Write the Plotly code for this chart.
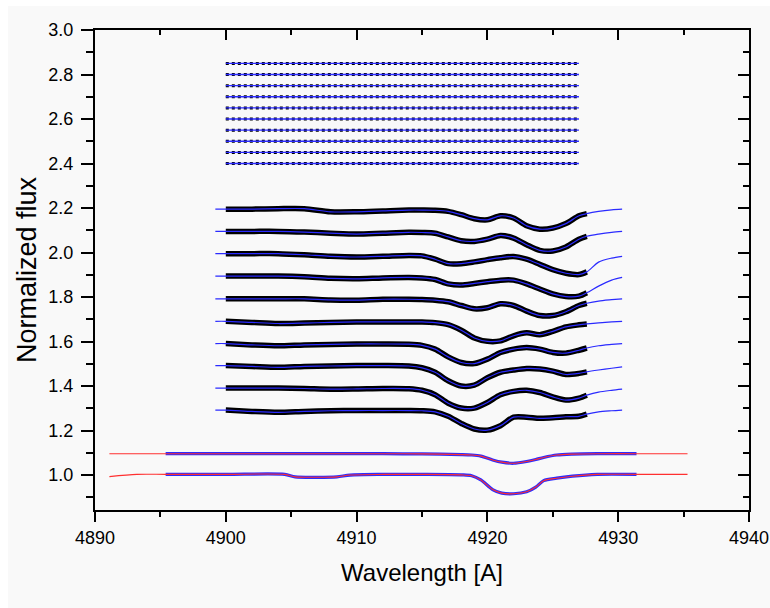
import plotly.graph_objects as go

# ---------------- data ----------------
# common wavelength grid of the model curves of the middle group
WL = [4899.2, 4900, 4902, 4904, 4906, 4908, 4910, 4912, 4914, 4915, 4916, 4917,
      4918, 4919, 4920, 4921, 4922, 4923, 4924, 4925, 4926, 4927, 4927.6,
      4928.5, 4929.5, 4930.3]
OBS_RANGE = (4900, 4927.6)        # wavelength span of the observed points

MID_OFFSETS = [2.195, 2.095, 1.995, 1.894, 1.792, 1.691, 1.591, 1.492, 1.391, 1.292]

S1 = [0, 0, 0, 0.002, 0.002, -0.012, -0.012, -0.008, -0.004, -0.004, -0.005, -0.01,
      -0.025, -0.043, -0.048, -0.03, -0.04, -0.075, -0.09, -0.085, -0.065, -0.03, -0.02,
      -0.01, -0.003, 0]
S2 = [0, 0, 0, 0, -0.003, -0.008, -0.012, -0.008, -0.004, -0.005, -0.008, -0.025,
      -0.042, -0.045, -0.035, -0.018, -0.03, -0.06, -0.085, -0.088, -0.07, -0.035, -0.022,
      -0.012, -0.004, 0]
S3 = [0, 0, 0, 0, -0.005, -0.012, -0.015, -0.012, -0.008, -0.01, -0.025, -0.045,
      -0.045, -0.037, -0.027, -0.018, -0.013, -0.025, -0.048, -0.072, -0.088, -0.094, -0.082,
      -0.038, -0.02, -0.012]
S4 = [0, 0, 0, 0, -0.003, -0.01, -0.012, -0.008, -0.006, -0.008, -0.015, -0.035,
      -0.04, -0.033, -0.025, -0.018, -0.018, -0.035, -0.058, -0.08, -0.092, -0.09, -0.075,
      -0.045, -0.018, -0.006]
S5 = [0, 0, 0, 0, 0, -0.005, -0.006, -0.002, -0.002, -0.003, -0.006, -0.013,
      -0.03, -0.045, -0.04, -0.022, -0.03, -0.055, -0.075, -0.075, -0.058, -0.03, -0.02,
      -0.01, -0.004, 0]
S6 = [0, 0, -0.005, -0.01, -0.008, -0.005, -0.003, -0.003, -0.003, -0.003, -0.006, -0.015,
      -0.04, -0.075, -0.09, -0.088, -0.065, -0.052, -0.06, -0.045, -0.025, -0.016, -0.012,
      -0.007, -0.003, 0]
S7 = [0, 0, -0.006, -0.01, -0.006, -0.004, -0.002, -0.002, -0.003, -0.008, -0.025, -0.06,
      -0.085, -0.09, -0.07, -0.04, -0.025, -0.018, -0.025, -0.04, -0.043, -0.03, -0.02,
      -0.01, -0.004, 0]
S8 = [0, 0, -0.004, -0.008, -0.004, -0.002, 0, 0, -0.002, -0.01, -0.03, -0.068,
      -0.092, -0.088, -0.055, -0.03, -0.02, -0.013, -0.015, -0.025, -0.04, -0.035, -0.028,
      -0.02, -0.012, -0.006]
S9 = [0, 0, 0, 0, -0.002, -0.005, -0.004, -0.002, -0.003, -0.01, -0.03, -0.068,
      -0.09, -0.09, -0.065, -0.03, -0.015, -0.01, -0.02, -0.04, -0.054, -0.045, -0.032,
      -0.018, -0.01, -0.005]
S10 = [0, 0, -0.006, -0.01, -0.006, -0.003, -0.002, -0.002, -0.002, -0.003, -0.008, -0.028,
       -0.06, -0.085, -0.09, -0.07, -0.032, -0.032, -0.037, -0.035, -0.03, -0.028, -0.018,
       -0.008, -0.003, 0]
MID_PROFILES = [S1, S2, S3, S4, S5, S6, S7, S8, S9, S10]

# top group: flat residual-like spectra
TOP_WL = [4900, 4927]
TOP_LEVELS = [2.40, 2.45, 2.50, 2.55, 2.60, 2.65, 2.70, 2.75, 2.80, 2.85]

# bottom group: two spectra (blue points) and their red fits
BOT_WL = [4891.1, 4893.2, 4895.4, 4900, 4904.5, 4905.3, 4907, 4908.5, 4909.5, 4912,
          4915, 4918, 4918.8, 4919.5, 4920.4, 4921.1, 4922, 4923, 4923.7, 4924.3,
          4925.3, 4926.5, 4928.4, 4931.4, 4935.3]
BOT_OBS_RANGE = (4895.4, 4931.4)
B_LOW = [0.993, 1.003, 1.003, 1.003, 1.003, 0.992, 0.990, 0.992, 1.0, 1.003,
         1.003, 1.001, 0.997, 0.978, 0.935, 0.919, 0.916, 0.925, 0.946, 0.975,
         0.986, 0.995, 1.003, 1.003, 1.003]
B_HIGH = [1.096, 1.096, 1.096, 1.096, 1.096, 1.096, 1.096, 1.096, 1.096, 1.096,
          1.095, 1.092, 1.090, 1.085, 1.068, 1.058, 1.053, 1.061, 1.070, 1.079,
          1.090, 1.094, 1.096, 1.096, 1.096]

X_TICKS = [4890, 4900, 4910, 4920, 4930, 4940]
Y_TICKS = [1.0, 1.2, 1.4, 1.6, 1.8, 2.0, 2.2, 2.4, 2.6, 2.8, 3.0]

# ---------------- figure ----------------
BLACK = "#000000"
BLUE = "#2b2bff"
RED = "#ff3030"

fig = go.Figure()

def sub(xs, ys, lo, hi):
    px = [x for x in xs if lo <= x <= hi]
    py = [y for x, y in zip(xs, ys) if lo <= x <= hi]
    return px, py

# top group
for lev in TOP_LEVELS:
    ys = [lev for _ in TOP_WL]
    fig.add_trace(go.Scatter(x=TOP_WL, y=ys, mode="lines",
                             line=dict(color=BLACK, width=3, dash="dot"),
                             hoverinfo="skip", showlegend=False))
    fig.add_trace(go.Scatter(x=TOP_WL, y=ys, mode="lines",
                             line=dict(color=BLUE, width=1.3),
                             hoverinfo="skip", showlegend=False))

# middle group
for off, prof in zip(MID_OFFSETS, MID_PROFILES):
    ys = [off + v for v in prof]
    ox, oy = sub(WL, ys, *OBS_RANGE)
    fig.add_trace(go.Scatter(x=ox, y=oy, mode="lines",
                             line=dict(color=BLACK, width=5.5, shape="spline", smoothing=0.8),
                             hoverinfo="skip", showlegend=False))
    fig.add_trace(go.Scatter(x=WL, y=ys, mode="lines",
                             line=dict(color=BLUE, width=1.2, shape="spline", smoothing=0.8),
                             hoverinfo="skip", showlegend=False))

# bottom group
for prof in (B_HIGH, B_LOW):
    ox, oy = sub(BOT_WL, prof, *BOT_OBS_RANGE)
    fig.add_trace(go.Scatter(x=ox, y=oy, mode="lines",
                             line=dict(color=BLUE, width=3.2, shape="spline", smoothing=0.8),
                             hoverinfo="skip", showlegend=False))
    fig.add_trace(go.Scatter(x=BOT_WL, y=prof, mode="lines",
                             line=dict(color=RED, width=1.1, shape="spline", smoothing=0.8),
                             hoverinfo="skip", showlegend=False))

# dummy trace for the mirrored (top/right) axes
fig.add_trace(go.Scatter(x=[None], y=[None], xaxis="x2", yaxis="y2",
                         showlegend=False, hoverinfo="skip"))

FONT = "Arial, 'Liberation Sans', sans-serif"
XR = [X_TICKS[0], X_TICKS[-1]]
YR = [0.843, Y_TICKS[-1]]

fig.update_layout(
    width=762, height=602,
    margin=dict(l=87, r=21, t=24, b=98),
    paper_bgcolor="#f9f9f9", plot_bgcolor="#f9f9f9",
    font=dict(family=FONT, color="black"),
    showlegend=False,
    xaxis=dict(range=XR, tickvals=X_TICKS, ticks="outside", ticklen=10, tickwidth=1.6,
               tickcolor="black", showline=True, linewidth=2, linecolor="black",
               showgrid=False, zeroline=False, tickfont=dict(size=18), automargin=False,
               minor=dict(dtick=5, tick0=4890, ticks="outside", ticklen=5, tickwidth=1.6,
                          tickcolor="black", showgrid=False),
               title=dict(text="Wavelength [A]", font=dict(size=24), standoff=18)),
    yaxis=dict(range=YR, tickvals=Y_TICKS, ticktext=[f"{v:.1f}" for v in Y_TICKS],
               ticks="outside", ticklen=12, tickwidth=1.6, tickcolor="black",
               showline=True, linewidth=2, linecolor="black", showgrid=False,
               zeroline=False, tickfont=dict(size=18), automargin=False,
               ticklabelstandoff=4,
               minor=dict(dtick=0.1, tick0=0.9, ticks="outside", ticklen=7, tickwidth=1.6,
                          tickcolor="black", showgrid=False),
               title=dict(text="Normalized flux", font=dict(size=27), standoff=4)),
    xaxis2=dict(range=XR, overlaying="x", side="top", tickvals=X_TICKS, ticks="inside",
                ticklen=10, tickwidth=1.6, tickcolor="black", showticklabels=False,
                showline=True, linewidth=2, linecolor="black", showgrid=False,
                zeroline=False,
                minor=dict(dtick=5, tick0=4890, ticks="inside", ticklen=5, tickwidth=1.6,
                           tickcolor="black", showgrid=False)),
    yaxis2=dict(range=YR, overlaying="y", side="right", tickvals=Y_TICKS, ticks="inside",
                ticklen=11, tickwidth=1.6, tickcolor="black", showticklabels=False,
                showline=True, linewidth=2, linecolor="black", showgrid=False,
                zeroline=False,
                minor=dict(dtick=0.1, tick0=0.9, ticks="inside", ticklen=6, tickwidth=1.6,
                           tickcolor="black", showgrid=False)),
)

fig.write_html("out.html",
               config={"displayModeBar": False},
               post_script="document.body.style.margin='6px 0 0 8px';"
                           "document.body.style.overflow='hidden';")
